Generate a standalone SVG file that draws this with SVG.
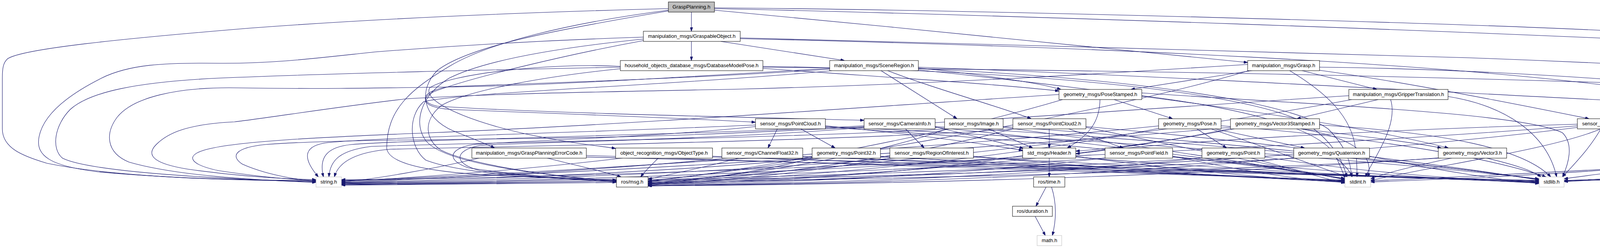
<svg xmlns="http://www.w3.org/2000/svg" width="5016" height="635" viewBox="0 0 5016 635">
<style>
.n rect{fill:#ffffff;stroke:#000000;stroke-width:1}
.n.root rect{fill:#bfbfbf}
.n.sys rect{stroke:#bfbfbf}
.n text{font-family:"Liberation Sans",Arial,sans-serif;font-size:13px;fill:#000000;text-anchor:middle}
.e{fill:none;stroke:#191970;stroke-width:1.1}
</style>
<defs>
<marker id="ah" viewBox="0 0 10 7" refX="10" refY="3.5" markerWidth="10" markerHeight="7" markerUnits="userSpaceOnUse" orient="auto">
<path d="M0,0 L10,3.5 L0,7 z" fill="#191970" stroke="#191970"/>
</marker>
</defs>
<rect width="5016" height="635" fill="#ffffff"/>
<g id="connectors">
<!-- GraspPlanning -->
<path class="e" marker-end="url(#ah)" d="M1770,31 L1770,80"/>
<path class="e" marker-end="url(#ah)" d="M1829,26 C2300,70 2900,130 3194,160"/>
<path class="e" marker-end="url(#ah)" d="M1711,28 C1400,80 1200,120 1120,180 C1070,230 1080,300 1160,335 C1210,355 1245,368 1266,379"/>
<path class="e" marker-end="url(#ah)" d="M1711,22 C1400,30 1000,45 640,72 C300,100 60,125 20,150 C8,160 6,175 6,200 L6,330 C6,380 60,400 120,418 C300,455 600,462 809,464"/>
<path class="e" marker-end="url(#ah)" d="M1711,26 C1450,60 1250,110 1150,170 C1050,230 990,280 990,380 C995,420 1100,440 1250,448 C1400,456 1500,460 1578,461"/>
<path class="e" marker-end="url(#ah)" d="M1829,22 C2500,37 3762,77 4722,127 C4850,145 4882,165 4882,200 L4882,300 C4880,370 4800,390 4600,405 C4200,430 3700,455 3509,463"/>
<path class="e" marker-end="url(#ah)" d="M1829,20 C2500,25 3762,60 4146,80 C4400,90 4600,50 4706,53 C4850,58 4960,80 4995,130 C5010,160 5010,200 5010,330 C5010,380 4960,395 4800,417 C4500,450 4200,460 4004,463"/>
<!-- GraspableObject -->
<path class="e" marker-end="url(#ah)" d="M1770,106 L1770,155"/>
<path class="e" marker-end="url(#ah)" d="M1845,106 L2162,155"/>
<path class="e" marker-end="url(#ah)" d="M1647,104 C1450,140 1200,200 1110,235 C1070,255 1090,275 1150,280 C1400,290 1700,300 1934,313"/>
<path class="e" marker-end="url(#ah)" d="M1647,95 C1400,103 1150,118 960,133 C800,150 700,163 560,162 C420,160 330,165 260,200 C160,250 110,300 100,350 C90,400 130,425 250,440 C450,458 650,462 809,462"/>
<path class="e" marker-end="url(#ah)" d="M1647,100 C1450,120 1250,150 1150,200 C1070,250 1060,320 1090,360 C1130,410 1300,440 1578,464"/>
<path class="e" marker-end="url(#ah)" d="M1895,99 C2800,120 3700,160 4200,230 C4500,280 4560,330 4500,380 C4400,430 3800,455 3509,466"/>
<path class="e" marker-end="url(#ah)" d="M1895,97 C2500,110 3200,135 3762,148 C4100,160 4600,185 4880,212 C4950,225 4962,260 4962,320 C4962,380 4900,400 4700,420 C4400,445 4150,458 4004,462"/>
<!-- DatabaseModelPose -->
<path class="e" marker-end="url(#ah)" d="M1588,170 C1400,160 1150,190 1100,225 C1080,260 1200,310 1346,343 C1450,365 1520,372 1576,380"/>
<path class="e" marker-end="url(#ah)" d="M1953,175 C2300,200 2550,215 2711,233"/>
<path class="e" marker-end="url(#ah)" d="M1588,172 C1300,178 900,186 560,200 C350,210 230,235 180,280 C140,320 130,380 160,405 C230,440 550,458 809,466"/>
<path class="e" marker-end="url(#ah)" d="M1588,176 C1400,195 1200,230 1130,270 C1080,310 1090,360 1130,385 C1200,420 1400,450 1578,467"/>
<path class="e" marker-end="url(#ah)" d="M1953,170 C2600,180 3200,230 3350,320 C3420,370 3440,420 3448,453"/>
<path class="e" marker-end="url(#ah)" d="M1953,172 C2800,180 3600,190 4642,230 C4740,240 4778,270 4778,320 C4778,390 4700,410 4500,430 C4300,450 4100,458 4004,464"/>
<!-- SceneRegion -->
<path class="e" marker-end="url(#ah)" d="M2270,180 C2400,230 2550,270 2640,304"/>
<path class="e" marker-end="url(#ah)" d="M2254,180 L2450,304"/>
<path class="e" marker-end="url(#ah)" d="M2124,177 C1800,200 1400,212 1150,222 C1080,232 1070,262 1120,272 C1400,290 1900,300 2212,308"/>
<path class="e" marker-end="url(#ah)" d="M2351,174 C2500,190 2650,210 2716,229"/>
<path class="e" marker-end="url(#ah)" d="M2351,179 C2700,215 3400,300 3708,379"/>
<path class="e" marker-end="url(#ah)" d="M2124,175 C1700,200 1350,222 1120,223 C950,226 800,228 610,225 C450,222 340,250 300,300 C270,340 270,390 330,415 C450,450 650,461 809,467"/>
<path class="e" marker-end="url(#ah)" d="M2130,181 C1700,220 1200,235 1085,260 C1040,300 1050,380 1090,410 C1180,445 1400,458 1578,462"/>
<path class="e" marker-end="url(#ah)" d="M2351,176 C2900,200 3300,260 3400,330 C3450,380 3458,420 3460,453"/>
<path class="e" marker-end="url(#ah)" d="M2351,172 C3000,195 3762,240 4322,267 C4560,290 4642,300 4642,340 C4642,400 4500,430 4300,450 C4150,458 4050,462 4004,465"/>
<!-- Grasp -->
<path class="e" marker-end="url(#ah)" d="M3378,180 C3600,210 3900,270 4068,304"/>
<path class="e" marker-end="url(#ah)" d="M3210,180 L2895,229"/>
<path class="e" marker-end="url(#ah)" d="M3330,180 L3525,229"/>
<path class="e" marker-end="url(#ah)" d="M3194,165 C2800,190 2400,215 1900,228 C1500,236 1254,240 1040,253 C850,275 700,300 600,312 C480,318 430,340 400,370 C370,400 400,420 480,433 C600,450 720,458 809,460"/>
<path class="e" marker-end="url(#ah)" d="M3200,180 C2800,300 2000,430 1659,463"/>
<path class="e" marker-end="url(#ah)" d="M3300,180 C3400,240 3460,300 3470,380 C3474,410 3474,430 3474,453"/>
<path class="e" marker-end="url(#ah)" d="M3378,172 C3700,175 4162,200 4362,227 C4405,245 4410,290 4410,320 C4405,380 4370,407 4242,427 C4150,440 4050,450 4004,458"/>
<!-- PoseStamped -->
<path class="e" marker-end="url(#ah)" d="M2816,255 C2815,300 2800,340 2732,379"/>
<path class="e" marker-end="url(#ah)" d="M2852,255 L3002,304"/>
<path class="e" marker-end="url(#ah)" d="M2711,242 C2200,275 1600,320 1100,340 C800,352 620,362 540,380 C470,395 480,420 560,437 C660,452 740,460 809,462"/>
<path class="e" marker-end="url(#ah)" d="M2720,255 C2400,350 1900,440 1659,464"/>
<path class="e" marker-end="url(#ah)" d="M2923,245 C3200,280 3380,330 3420,400 C3430,425 3438,440 3443,456"/>
<path class="e" marker-end="url(#ah)" d="M2923,238 C3400,270 3900,290 4000,340 C4030,370 4015,420 4000,453"/>
<!-- GripperTranslation -->
<path class="e" marker-end="url(#ah)" d="M3528,255 L3320,304"/>
<path class="e" marker-end="url(#ah)" d="M3453,245 C2900,280 2200,335 1600,350 C1200,360 880,355 680,370 C600,378 590,400 620,420 C680,447 750,458 809,465"/>
<path class="e" marker-end="url(#ah)" d="M3460,255 C2900,360 2000,445 1659,465"/>
<path class="e" marker-end="url(#ah)" d="M3560,255 C3580,320 3520,400 3495,453"/>
<path class="e" marker-end="url(#ah)" d="M3707,247 C3850,270 3960,340 3985,453"/>
<!-- PointCloud -->
<path class="e" marker-end="url(#ah)" d="M2113,322 C2350,345 2500,365 2618,385"/>
<path class="e" marker-end="url(#ah)" d="M2050,330 L2138,379"/>
<path class="e" marker-end="url(#ah)" d="M1990,330 L1966,379"/>
<path class="e" marker-end="url(#ah)" d="M1934,320 C1500,340 1000,350 840,365 C780,372 770,400 815,453"/>
<path class="e" marker-end="url(#ah)" d="M1934,324 C1700,350 1300,362 1212,370 C1150,380 1140,410 1200,430 C1350,452 1480,458 1578,463"/>
<path class="e" marker-end="url(#ah)" d="M2113,326 C2700,360 3200,420 3443,457"/>
<path class="e" marker-end="url(#ah)" d="M2113,324 C2900,360 3600,420 3940,458"/>
<!-- CameraInfo -->
<path class="e" marker-end="url(#ah)" d="M2394,325 C2480,345 2560,365 2620,380"/>
<path class="e" marker-end="url(#ah)" d="M2318,330 L2366,379"/>
<path class="e" marker-end="url(#ah)" d="M2212,322 C1800,345 1100,355 900,370 C840,376 815,400 828,453"/>
<path class="e" marker-end="url(#ah)" d="M2212,326 C1900,355 1350,365 1230,372 C1160,385 1160,420 1230,437 C1380,455 1500,462 1578,465"/>
<path class="e" marker-end="url(#ah)" d="M2394,326 C2800,365 3250,425 3443,458"/>
<path class="e" marker-end="url(#ah)" d="M2394,324 C3100,365 3700,425 3940,459"/>
<!-- Image -->
<path class="e" marker-end="url(#ah)" d="M2530,330 L2644,379"/>
<path class="e" marker-end="url(#ah)" d="M2430,330 C2000,355 1200,365 950,375 C870,385 845,410 842,453"/>
<path class="e" marker-end="url(#ah)" d="M2425,330 C2200,410 1850,457 1659,468"/>
<path class="e" marker-end="url(#ah)" d="M2568,326 C2900,370 3280,430 3443,459"/>
<path class="e" marker-end="url(#ah)" d="M2568,324 C3200,368 3720,428 3940,460"/>
<!-- PointCloud2 -->
<path class="e" marker-end="url(#ah)" d="M2686,330 L2686,379"/>
<path class="e" marker-end="url(#ah)" d="M2736,330 L2876,379"/>
<path class="e" marker-end="url(#ah)" d="M2600,330 C2200,360 1300,375 1000,382 C900,390 865,420 856,453"/>
<path class="e" marker-end="url(#ah)" d="M2600,328 C2300,410 1900,458 1659,469"/>
<path class="e" marker-end="url(#ah)" d="M2780,326 C3000,372 3300,432 3443,460"/>
<path class="e" marker-end="url(#ah)" d="M2780,324 C3300,370 3750,430 3940,461"/>
<!-- Pose -->
<path class="e" marker-end="url(#ah)" d="M3064,330 L3140,379"/>
<path class="e" marker-end="url(#ah)" d="M3110,330 L3340,379"/>
<path class="e" marker-end="url(#ah)" d="M2970,322 C2400,380 1200,455 874,462"/>
<path class="e" marker-end="url(#ah)" d="M2970,328 C2500,420 1950,460 1659,470"/>
<path class="e" marker-end="url(#ah)" d="M3100,330 C3250,380 3380,430 3450,453"/>
<path class="e" marker-end="url(#ah)" d="M3126,322 C3500,350 3800,400 3958,453"/>
<!-- Vector3Stamped -->
<path class="e" marker-end="url(#ah)" d="M3160,330 C3000,360 2850,380 2754,387"/>
<path class="e" marker-end="url(#ah)" d="M3330,330 C3500,350 3620,365 3690,379"/>
<path class="e" marker-end="url(#ah)" d="M3160,325 C2500,385 1300,456 874,463"/>
<path class="e" marker-end="url(#ah)" d="M3155,328 C2700,425 2000,461 1659,471"/>
<path class="e" marker-end="url(#ah)" d="M3330,330 C3450,350 3520,390 3502,453"/>
<path class="e" marker-end="url(#ah)" d="M3378,320 C3700,340 3900,380 3970,453"/>
<!-- JointState -->
<path class="e" marker-end="url(#ah)" d="M4038,318 C3600,330 3000,360 2754,394"/>
<path class="e" marker-end="url(#ah)" d="M4040,322 C3200,390 1500,458 874,460"/>
<path class="e" marker-end="url(#ah)" d="M4040,326 C3300,420 2100,462 1659,472"/>
<path class="e" marker-end="url(#ah)" d="M4098,330 C3980,380 3700,420 3509,462"/>
<path class="e" marker-end="url(#ah)" d="M4098,330 C4070,380 4030,420 4000,453"/>
<!-- GraspPlanningErrorCode -->
<path class="e" marker-end="url(#ah)" d="M1230,404 C1100,435 950,460 874,466"/>
<path class="e" marker-end="url(#ah)" d="M1398,404 C1480,425 1550,440 1590,453"/>
<path class="e" marker-end="url(#ah)" d="M1501,398 C2300,425 3100,452 3443,461"/>
<path class="e" marker-end="url(#ah)" d="M1501,402 C2500,430 3500,455 3940,462"/>
<!-- ObjectType -->
<path class="e" marker-end="url(#ah)" d="M1600,404 C1300,440 1000,458 874,465"/>
<path class="e" marker-end="url(#ah)" d="M1686,404 C1670,420 1652,437 1640,453"/>
<path class="e" marker-end="url(#ah)" d="M1824,400 C2500,430 3150,454 3443,462"/>
<path class="e" marker-end="url(#ah)" d="M1824,402 C2700,432 3550,456 3940,463"/>
<!-- ChannelFloat32 -->
<path class="e" marker-end="url(#ah)" d="M1870,404 C1500,440 1050,460 874,467"/>
<path class="e" marker-end="url(#ah)" d="M1894,404 C1800,430 1720,445 1659,459"/>
<path class="e" marker-end="url(#ah)" d="M2055,400 C2700,432 3200,456 3443,463"/>
<path class="e" marker-end="url(#ah)" d="M2055,402 C2900,434 3600,457 3940,464"/>
<!-- Point32 -->
<path class="e" marker-end="url(#ah)" d="M2090,404 C1700,445 1100,462 874,468"/>
<path class="e" marker-end="url(#ah)" d="M2085,404 C1950,440 1800,458 1659,473"/>
<path class="e" marker-end="url(#ah)" d="M2254,400 C2800,435 3250,458 3443,464"/>
<path class="e" marker-end="url(#ah)" d="M2254,402 C3000,436 3650,458 3940,465"/>
<!-- RegionOfInterest -->
<path class="e" marker-end="url(#ah)" d="M2300,404 C1800,448 1150,464 874,469"/>
<path class="e" marker-end="url(#ah)" d="M2285,404 C2050,445 1850,462 1659,474"/>
<path class="e" marker-end="url(#ah)" d="M2492,400 C2900,438 3280,460 3443,465"/>
<path class="e" marker-end="url(#ah)" d="M2492,402 C3100,438 3700,459 3940,466"/>
<!-- Header -->
<path class="e" marker-end="url(#ah)" d="M2686,405 L2686,453"/>
<path class="e" marker-end="url(#ah)" d="M2625,400 C2000,450 1200,466 874,470"/>
<path class="e" marker-end="url(#ah)" d="M2620,398 C2300,450 1900,466 1659,475"/>
<path class="e" marker-end="url(#ah)" d="M2754,400 C3050,440 3320,462 3443,466"/>
<path class="e" marker-end="url(#ah)" d="M2754,402 C3200,440 3720,460 3940,467"/>
<!-- PointField -->
<path class="e" marker-end="url(#ah)" d="M2840,404 C2100,452 1250,467 874,471"/>
<path class="e" marker-end="url(#ah)" d="M2835,404 C2400,455 1950,468 1659,476"/>
<path class="e" marker-end="url(#ah)" d="M3002,400 C3200,442 3350,463 3443,467"/>
<path class="e" marker-end="url(#ah)" d="M3002,402 C3400,442 3750,461 3940,468"/>
<!-- Point -->
<path class="e" marker-end="url(#ah)" d="M3090,404 C2300,455 1300,468 874,472"/>
<path class="e" marker-end="url(#ah)" d="M3080,404 C2600,458 2000,470 1659,476"/>
<path class="e" marker-end="url(#ah)" d="M3200,404 C3300,430 3400,460 3443,469"/>
<path class="e" marker-end="url(#ah)" d="M3238,402 C3500,444 3800,462 3940,469"/>
<!-- Quaternion -->
<path class="e" marker-end="url(#ah)" d="M3330,404 C2500,457 1350,469 874,473"/>
<path class="e" marker-end="url(#ah)" d="M3315,404 C2700,460 2050,472 1659,476"/>
<path class="e" marker-end="url(#ah)" d="M3420,405 C3440,420 3455,437 3462,453"/>
<path class="e" marker-end="url(#ah)" d="M3506,400 C3700,440 3850,462 3940,470"/>
<!-- Vector3 -->
<path class="e" marker-end="url(#ah)" d="M3700,404 C2800,460 1400,470 874,474"/>
<path class="e" marker-end="url(#ah)" d="M3685,404 C2900,462 2100,473 1659,476"/>
<path class="e" marker-end="url(#ah)" d="M3720,404 C3620,425 3540,445 3509,458"/>
<path class="e" marker-end="url(#ah)" d="M3802,404 C3870,420 3920,435 3945,453"/>
<!-- ros/time, ros/duration -->
<path class="e" marker-end="url(#ah)" d="M2678,479 L2652,528"/>
<path class="e" marker-end="url(#ah)" d="M2692,479 C2705,520 2705,560 2694,603"/>
<path class="e" marker-end="url(#ah)" d="M2650,554 L2676,603"/>
</g>
<g id="node-GraspPlanning" class="n root"><rect x="1711" y="5" width="118" height="26"/><text x="1770" y="22">GraspPlanning.h</text></g>
<g id="node-GraspableObject" class="n"><rect x="1647" y="80" width="248" height="26"/><text x="1771" y="97">manipulation_msgs/GraspableObject.h</text></g>
<g id="node-DatabaseModelPose" class="n"><rect x="1588" y="155" width="365" height="26"/><text x="1770.5" y="172">household_objects_database_msgs/DatabaseModelPose.h</text></g>
<g id="node-SceneRegion" class="n"><rect x="2124" y="155" width="227" height="26"/><text x="2237.5" y="172">manipulation_msgs/SceneRegion.h</text></g>
<g id="node-Grasp" class="n"><rect x="3194" y="155" width="184" height="26"/><text x="3286" y="172">manipulation_msgs/Grasp.h</text></g>
<g id="node-PoseStamped" class="n"><rect x="2711" y="229" width="212" height="26"/><text x="2817" y="246">geometry_msgs/PoseStamped.h</text></g>
<g id="node-GripperTranslation" class="n"><rect x="3453" y="229" width="254" height="26"/><text x="3580" y="246">manipulation_msgs/GripperTranslation.h</text></g>
<g id="node-PointCloud" class="n"><rect x="1934" y="304" width="179" height="26"/><text x="2023.5" y="321">sensor_msgs/PointCloud.h</text></g>
<g id="node-CameraInfo" class="n"><rect x="2212" y="304" width="182" height="26"/><text x="2303" y="321">sensor_msgs/CameraInfo.h</text></g>
<g id="node-Image" class="n"><rect x="2418" y="304" width="150" height="26"/><text x="2493" y="321">sensor_msgs/Image.h</text></g>
<g id="node-PointCloud2" class="n"><rect x="2593" y="304" width="187" height="26"/><text x="2686.5" y="321">sensor_msgs/PointCloud2.h</text></g>
<g id="node-Pose" class="n"><rect x="2966" y="304" width="160" height="26"/><text x="3046" y="321">geometry_msgs/Pose.h</text></g>
<g id="node-Vector3Stamped" class="n"><rect x="3150" y="304" width="228" height="26"/><text x="3264" y="321">geometry_msgs/Vector3Stamped.h</text></g>
<g id="node-JointState" class="n"><rect x="4038" y="304" width="174" height="26"/><text x="4125" y="321">sensor_msgs/JointState.h</text></g>
<g id="node-GraspPlanningErrorCode" class="n"><rect x="1208" y="379" width="293" height="26"/><text x="1354.5" y="396">manipulation_msgs/GraspPlanningErrorCode.h</text></g>
<g id="node-ObjectType" class="n"><rect x="1576" y="379" width="248" height="26"/><text x="1700" y="396">object_recognition_msgs/ObjectType.h</text></g>
<g id="node-ChannelFloat32" class="n"><rect x="1848" y="379" width="207" height="26"/><text x="1951.5" y="396">sensor_msgs/ChannelFloat32.h</text></g>
<g id="node-Point32" class="n"><rect x="2079" y="379" width="175" height="26"/><text x="2166.5" y="396">geometry_msgs/Point32.h</text></g>
<g id="node-RegionOfInterest" class="n"><rect x="2278" y="379" width="214" height="26"/><text x="2385" y="396">sensor_msgs/RegionOfInterest.h</text></g>
<g id="node-Header" class="n"><rect x="2618" y="379" width="136" height="26"/><text x="2686" y="396">std_msgs/Header.h</text></g>
<g id="node-PointField" class="n"><rect x="2829" y="379" width="173" height="26"/><text x="2915.5" y="396">sensor_msgs/PointField.h</text></g>
<g id="node-Point" class="n"><rect x="3077" y="379" width="161" height="26"/><text x="3157.5" y="396">geometry_msgs/Point.h</text></g>
<g id="node-Quaternion" class="n"><rect x="3312" y="379" width="194" height="26"/><text x="3409" y="396">geometry_msgs/Quaternion.h</text></g>
<g id="node-Vector3" class="n"><rect x="3682" y="379" width="175" height="26"/><text x="3769.5" y="396">geometry_msgs/Vector3.h</text></g>
<g id="node-string" class="n sys"><rect x="809" y="453" width="65" height="26"/><text x="841.5" y="470">string.h</text></g>
<g id="node-rosmsg" class="n"><rect x="1578" y="453" width="81" height="26"/><text x="1618.5" y="470">ros/msg.h</text></g>
<g id="node-rostime" class="n"><rect x="2646" y="453" width="80" height="26"/><text x="2686" y="470">ros/time.h</text></g>
<g id="node-stdint" class="n sys"><rect x="3443" y="453" width="66" height="26"/><text x="3476" y="470">stdint.h</text></g>
<g id="node-stdlib" class="n sys"><rect x="3940" y="453" width="64" height="26"/><text x="3972" y="470">stdlib.h</text></g>
<g id="node-rosduration" class="n"><rect x="2592" y="528" width="102" height="26"/><text x="2643" y="545">ros/duration.h</text></g>
<g id="node-math" class="n sys"><rect x="2655" y="603" width="63" height="26"/><text x="2686.5" y="620">math.h</text></g>
</svg>
